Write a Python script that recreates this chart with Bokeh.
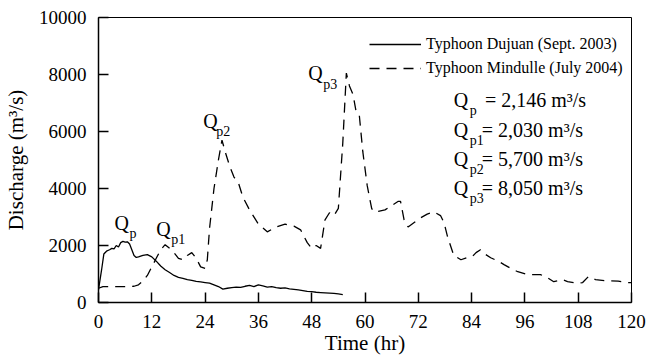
from bokeh.plotting import figure
from bokeh.models import Range1d, FixedTicker, Legend, LegendItem, Label
from bokeh.embed import file_html
from bokeh.resources import INLINE

# ---------------- data ----------------
dujuan_t = [0, 0.7, 1.2, 1.8, 2.5, 3, 3.5, 4, 4.5, 5, 5.5, 6, 6.5, 7, 7.5, 8, 8.5, 9, 10, 11, 12,
            13, 14, 15, 16, 17, 18, 19, 20, 21, 22, 23, 24, 25, 26, 27, 28, 29, 30, 31, 32, 33,
            34, 35, 36, 37, 38, 39, 40, 41, 42, 43, 44, 45, 46, 47, 48, 49, 50, 51, 52, 53, 54, 55]
dujuan_q = [450, 1150, 1700, 1800, 1850, 1900, 1880, 2000, 1950, 2100, 2146, 2120, 2130, 2050, 1850,
            1650, 1580, 1600, 1650, 1680, 1600, 1450, 1280, 1150, 1050, 950, 880, 850, 800, 780,
            740, 720, 700, 680, 620, 560, 470, 500, 520, 540, 530, 570, 600, 560, 620, 580, 540,
            560, 520, 500, 510, 480, 460, 440, 420, 390, 380, 360, 350, 340, 330, 320, 300, 280]

mindulle_t = [0, 1, 3, 5, 7, 8, 9, 10, 11, 12, 13, 14, 15, 16, 17, 18, 19, 20, 21, 22, 23, 24,
              24.5, 25, 26, 27, 27.8, 28.5, 29.5, 30.5, 31.5, 32.5, 34, 36, 38, 40, 42, 44, 45.5,
              47, 48, 49, 50, 51, 52, 53, 54, 55, 55.8, 56.5, 57.3, 58, 58.7, 59.5, 60.5, 61.5,
              62, 63, 64.5, 66, 67.5, 68, 68.8, 69.7, 71, 72.5, 74, 75.5, 77, 77.8, 78.6, 80,
              81.6, 83, 84.2, 85, 86, 87, 88.3, 90, 91.3, 93, 94.4, 96.6, 99.5, 101, 102.5,
              104.5, 105.6, 107.8, 109, 110.3, 111.9, 114.6, 117, 119, 120]
mindulle_q = [500, 560, 560, 560, 560, 570, 620, 750, 950, 1250, 1550, 1850, 2030, 1900, 1750,
              1550, 1500, 1650, 1750, 1550, 1250, 1200, 1500, 2600, 4000, 5000, 5700, 5300, 4800,
              4400, 4200, 3700, 3250, 2750, 2480, 2650, 2750, 2680, 2550, 2100, 1900, 2000, 1900,
              2900, 3150, 3050, 3300, 5600, 8050, 7600, 7300, 6700, 6600, 5300, 4100, 3300, 3180,
              3200, 3250, 3400, 3550, 3550, 2900, 2650, 2800, 2970, 3100, 3180, 3050, 2800, 2300,
              1650, 1500, 1580, 1620, 1750, 1850, 1700, 1570, 1450, 1330, 1180, 1080, 980, 980,
              880, 730, 800, 730, 680, 700, 910, 800, 760, 750, 700, 700]

x_ticks = [0, 12, 24, 36, 48, 60, 72, 84, 96, 108, 120]
y_ticks = [0, 2000, 4000, 6000, 8000, 10000]

series_names = ["Typhoon Dujuan (Sept. 2003)", "Typhoon Mindulle (July 2004)"]
peak_subs = ["p", "p1", "p2", "p3"]
peak_texts = ["= 2,146 m\u00b3/s", "= 2,030 m\u00b3/s", "= 5,700 m\u00b3/s", "= 8,050 m\u00b3/s"]

FONT = "Liberation Serif"

p = figure(width=646, height=357, output_backend="svg", toolbar_location=None,
           x_range=Range1d(0, 120), y_range=Range1d(0, 10000),
           min_border_left=97, min_border_right=15, min_border_top=17, min_border_bottom=54)
p.background_fill_color = "white"
p.border_fill_color = "white"
p.outline_line_color = "black"
p.outline_line_width = 1
p.xgrid.visible = False
p.ygrid.visible = False

for ax in (p.xaxis[0], p.yaxis[0]):
    ax.axis_line_color = "black"
    ax.axis_line_width = 1.5
    ax.major_tick_in = 10
    ax.major_tick_out = 0
    ax.major_tick_line_color = "black"
    ax.major_tick_line_width = 1.5
    ax.minor_tick_line_color = None
    ax.major_label_text_font = FONT
    ax.major_label_text_font_size = "19px"
    ax.major_label_text_color = "black"
    ax.axis_label_text_font = FONT
    ax.axis_label_text_font_size = "21px"
    ax.axis_label_text_font_style = "normal"
    ax.axis_label_text_color = "black"

p.xaxis.ticker = FixedTicker(ticks=x_ticks)
p.yaxis.ticker = FixedTicker(ticks=y_ticks)
p.xaxis.axis_label = "Time (hr)"
p.yaxis.axis_label = "Discharge (m\u00b3/s)"
p.xaxis.major_label_standoff = 12
p.yaxis.major_label_standoff = 12
p.xaxis.axis_label_standoff = 0
p.yaxis.axis_label_standoff = 8

r1 = p.line(dujuan_t, dujuan_q, line_color="black", line_width=1.3)
r2 = p.line(mindulle_t, mindulle_q, line_color="black", line_width=1.3, line_dash="10 7")

legend = Legend(items=[LegendItem(label=series_names[0], renderers=[r1]),
                       LegendItem(label=series_names[1], renderers=[r2])],
                location=(271, 222), padding=0, margin=0, spacing=0,
                glyph_width=52, glyph_height=24, label_height=24, label_standoff=5,
                label_text_font=FONT, label_text_font_size="16px",
                label_text_color="black",
                background_fill_alpha=0, border_line_color=None)
p.add_layout(legend)

def add_q(x, y, xs, ys, sub, size="20px", subsize="14px"):
    p.add_layout(Label(x=x, y=y, text="Q", text_font=FONT, text_font_size=size,
                       text_baseline="alphabetic", text_color="black"))
    p.add_layout(Label(x=xs, y=ys, text=sub, text_font=FONT, text_font_size=subsize,
                       text_baseline="alphabetic", text_color="black"))

# peak labels (Q baseline, subscript baseline)
add_q(3.6, 2800, 7.0, 2420, peak_subs[0])
add_q(13.0, 2590, 16.4, 2210, peak_subs[1])
add_q(23.6, 6365, 26.5, 5985, peak_subs[2])
add_q(47.2, 8040, 50.6, 7660, peak_subs[3])

# annotation block
row_y = [7100, 6050, 5035, 4020]
sub_y = [6720, 5670, 4655, 3640]
eq_x = [87.0, 86.3, 86.3, 86.3]
for i in range(4):
    add_q(80.0, row_y[i], 83.6, sub_y[i], peak_subs[i])
    p.add_layout(Label(x=eq_x[i], y=row_y[i], text=peak_texts[i], text_font=FONT,
                       text_font_size="20px", text_baseline="alphabetic", text_color="black"))

open("out.html", "w").write(file_html(p, INLINE))
